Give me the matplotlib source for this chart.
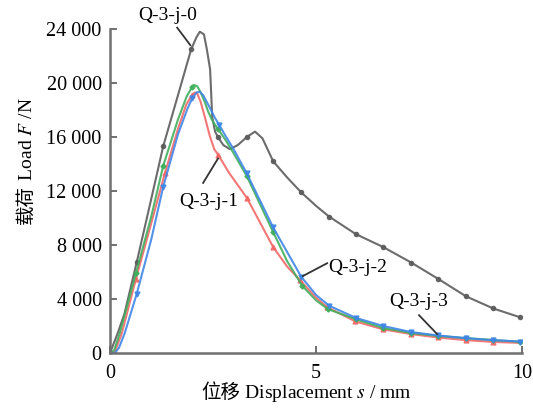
import matplotlib
matplotlib.use("Agg")
import matplotlib.pyplot as plt

plt.rcParams['font.family'] = ['Liberation Serif', 'Noto Sans CJK SC']
plt.rcParams['mathtext.fontset'] = 'stix'

# displacement (mm) / load (kN -> N below)
x_j0 = [0, 0.19, 0.35, 0.65, 1.0, 1.29, 1.65, 1.97, 2.1, 2.18, 2.28, 2.35, 2.43, 2.48, 2.55, 2.62,
        2.75, 2.91, 3.1, 3.32, 3.52, 3.7, 3.96, 4.3, 4.64, 5.0, 5.32, 5.97, 6.63, 7.31, 7.96, 8.64, 9.30, 9.95]
y_j0 = [0, 1.5, 2.9, 6.75, 11.4, 15.3, 19.1, 22.5, 23.4, 23.8, 23.6, 22.5, 21.0, 17.5, 16.4, 16.0,
        15.4, 15.1, 15.4, 16.0, 16.4, 15.9, 14.2, 13.0, 11.9, 10.9, 10.1, 8.8, 7.85, 6.7, 5.5, 4.2, 3.3, 2.65]
m_j0 = [0.65, 1.29, 1.97, 2.62, 3.32, 3.96, 4.64, 5.32, 5.97, 6.63, 7.31, 7.96, 8.64, 9.30, 9.95]

x_j1 = [0, 0.12, 0.29, 0.63, 1.0, 1.33, 1.65, 1.85, 1.99, 2.06, 2.12, 2.2, 2.3, 2.42, 2.53, 2.62,
        2.75, 2.9, 3.32, 3.96, 4.3, 4.61, 5.0, 5.27, 5.95, 6.63, 7.31, 7.96, 8.64, 9.3, 9.95]
y_j1 = [0, 0.1, 1.5, 5.5, 9.6, 13.3, 16.6, 18.4, 19.1, 19.3, 19.2, 18.6, 17.5, 16.1, 15.1, 14.7,
        14.05, 13.3, 11.5, 7.85, 6.4, 5.4, 4.1, 3.4, 2.35, 1.75, 1.4, 1.15, 0.95, 0.82, 0.75]
m_j1 = [0.63, 1.33, 1.99, 2.62, 3.32, 3.96, 4.61, 5.27, 5.95, 6.63, 7.31, 7.96, 8.64, 9.3]

x_j2 = [0, 0.12, 0.22, 0.36, 0.65, 1.0, 1.29, 1.65, 1.88, 2.0, 2.1, 2.18, 2.26, 2.4, 2.55, 2.65,
        2.8, 3.0, 3.32, 3.96, 4.64, 5.0, 5.32, 5.97, 6.63, 7.31, 7.96, 8.64, 9.3, 9.95]
y_j2 = [0, 0, 0.4, 1.5, 4.4, 8.4, 12.3, 16.2, 18.1, 18.9, 19.3, 19.35, 19.1, 18.3, 17.4, 16.9,
        16.1, 15.1, 13.3, 9.3, 5.65, 4.3, 3.5, 2.6, 2.0, 1.55, 1.3, 1.1, 0.95, 0.85]
m_j2 = [0.65, 1.29, 2.0, 2.65, 3.32, 3.96, 4.64, 5.32, 5.97, 6.63, 7.31, 7.96, 8.64, 9.3, 9.95]

x_j3 = [0, 0.1, 0.24, 0.63, 1.0, 1.29, 1.65, 1.86, 1.99, 2.04, 2.12, 2.2, 2.3, 2.38, 2.47, 2.55,
        2.62, 2.8, 3.0, 3.32, 3.96, 4.3, 4.66, 5.0, 5.29, 5.97, 6.63, 7.31, 7.96, 8.64, 9.3, 9.95]
y_j3 = [0, 0.2, 1.5, 5.9, 10.1, 13.85, 17.3, 19.0, 19.7, 19.85, 19.75, 19.3, 18.6, 17.9, 17.3, 16.9,
        16.6, 15.8, 14.8, 13.1, 8.96, 6.8, 5.0, 3.9, 3.25, 2.5, 1.85, 1.48, 1.26, 1.1, 0.96, 0.83]
m_j3 = [0.63, 1.29, 1.99, 2.62, 3.32, 3.96, 4.66, 5.29, 5.97, 6.63, 7.31, 7.96, 8.64, 9.3, 9.95]

yticks = [0, 4000, 8000, 12000, 16000, 20000, 24000]
yticklabels = ['0', '4 000', '8 000', '12 000', '16 000', '20 000', '24 000']
xticks = [0, 5, 10]

series = [
    ('Q-3-j-0', x_j0, y_j0, m_j0, '#5c5c5c', 'o', 3.0),
    ('Q-3-j-1', x_j1, y_j1, m_j1, '#f26868', '^', 3.5),
    ('Q-3-j-3', x_j3, y_j3, m_j3, '#3fae5c', 'D', 2.6),
    ('Q-3-j-2', x_j2, y_j2, m_j2, '#3f86e6', 'v', 3.5),
]

fig = plt.figure(figsize=(5.33, 4.08), dpi=100)
ax = fig.add_axes([0.2064, 0.1348, 0.7730, 0.7941])

for name, xs, ys, marks, col, mk, ms in series:
    idx = [i for i, v in enumerate(xs) if v in marks]
    ax.plot(xs, [v * 1000 for v in ys], color=col, lw=1.5, alpha=0.9,
            marker=mk, ms=ms, markevery=idx, label=name, solid_joinstyle='round')

ax.set_xlim(0, 10)
ax.set_ylim(0, 24000)
ax.set_xticks(xticks)
ax.set_xticklabels([str(t) for t in xticks])
ax.set_yticks(yticks)
ax.set_yticklabels(yticklabels)
ax.tick_params(direction='in', length=5, width=1.4, color='#707070', labelsize=14.5)
ax.tick_params(axis='y', pad=6)
ax.tick_params(axis='x', pad=8)
for s in ['top', 'right']:
    ax.spines[s].set_visible(False)
for s in ['left', 'bottom']:
    ax.spines[s].set_color('#707070')
    ax.spines[s].set_linewidth(1.8)

# curve labels with leader lines
lab = dict(fontsize=14, ha='center', va='center', clip_on=False)
lc = dict(color='#333333', lw=1.3, clip_on=False)
ax.text(1.41, 25000, 'Q-3-j-0', **lab)
ax.plot([1.63, 1.95], [24100, 22800], **lc)
ax.text(2.40, 11200, 'Q-3-j-1', **lab)
ax.plot([2.26, 2.62], [12600, 14400], **lc)
ax.text(6.02, 6300, 'Q-3-j-2', **lab)
ax.plot([5.27, 4.68], [6650, 5700], **lc)
ax.text(7.48, 3850, 'Q-3-j-3', **lab)
ax.plot([7.50, 7.94], [2800, 1400], **lc)

# axis titles: Chinese part in CJK font, latin part in serif with italic symbol
cjk = ['Noto Sans CJK SC']
t1 = ax.text(0.316, -0.14, '位移', transform=ax.transAxes, ha='right', va='baseline',
             fontsize=14, family=cjk)
ax.annotate(' Displacement $s$ / mm', xy=(1, -0.14), xycoords=(t1, 'axes fraction'),
            ha='left', va='baseline', fontsize=14)
t2 = ax.text(-0.189, 0.52, '载荷', transform=ax.transAxes, rotation=90, rotation_mode='anchor',
             ha='right', va='baseline', fontsize=14, family=cjk)
ax.annotate(' Load $F$ /N', xy=(-0.189, 1), xycoords=('axes fraction', t2), rotation=90,
            rotation_mode='anchor', ha='left', va='baseline', fontsize=14)

fig.savefig('out.png', dpi=100)
